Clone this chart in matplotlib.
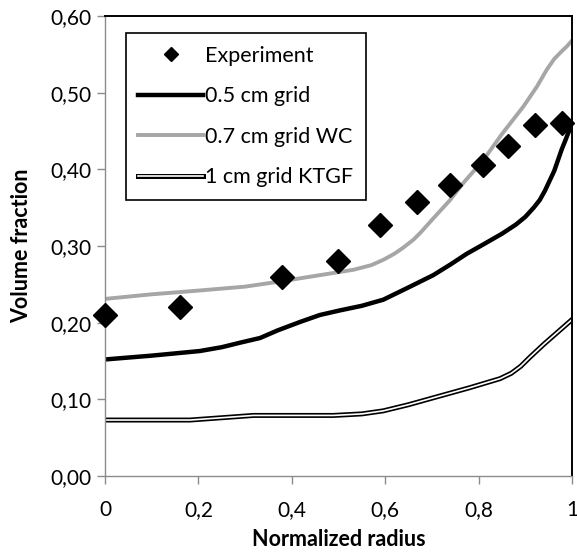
import matplotlib
matplotlib.use('Agg')
import matplotlib.pyplot as plt
import matplotlib.patheffects as pe
import numpy as np

plt.rcParams['font.family'] = ['Lato', 'DejaVu Sans']

# experiment points
exp_x = [0, 0.161, 0.378, 0.499, 0.589, 0.669, 0.739, 0.810, 0.864, 0.921, 0.978]
exp_y = [0.210, 0.221, 0.260, 0.280, 0.327, 0.357, 0.380, 0.406, 0.430, 0.458, 0.460]

# 0.5 cm grid
g05_x = [0, 0.1, 0.203, 0.25, 0.29, 0.332, 0.37, 0.418, 0.46, 0.503, 0.55, 0.596, 0.65, 0.703,
         0.74, 0.775, 0.81, 0.85, 0.88, 0.90, 0.918, 0.931, 0.942, 0.952, 0.962, 0.970, 0.978,
         0.986, 0.993, 1.0]
g05_y = [0.152, 0.157, 0.163, 0.168, 0.174, 0.180, 0.190, 0.201, 0.210, 0.216, 0.222, 0.230,
         0.246, 0.262, 0.276, 0.290, 0.302, 0.316, 0.328, 0.338, 0.350, 0.360, 0.372, 0.385,
         0.398, 0.412, 0.426, 0.438, 0.449, 0.458]

# 0.7 cm grid WC
g07_x = [0, 0.1, 0.203, 0.30, 0.378, 0.45, 0.532, 0.57, 0.596, 0.62, 0.639, 0.66, 0.675, 0.70,
         0.739, 0.767, 0.790, 0.810, 0.85, 0.896, 0.925, 0.946, 0.962, 0.978, 0.99, 1.0]
g07_y = [0.231, 0.237, 0.242, 0.247, 0.254, 0.261, 0.269, 0.275, 0.282, 0.290, 0.298, 0.308,
         0.317, 0.334, 0.360, 0.382, 0.398, 0.412, 0.446, 0.482, 0.508, 0.530, 0.544, 0.554,
         0.561, 0.568]

# 1 cm grid KTGF
g1_x = [0, 0.1, 0.182, 0.25, 0.318, 0.40, 0.489, 0.55, 0.596, 0.65, 0.703, 0.78, 0.846, 0.87,
        0.89, 0.91, 0.94, 0.97, 1.0]
g1_y = [0.073, 0.073, 0.073, 0.076, 0.079, 0.079, 0.079, 0.081, 0.085, 0.093, 0.102, 0.115,
        0.127, 0.134, 0.143, 0.155, 0.172, 0.188, 0.204]

xticks = [0, 0.2, 0.4, 0.6, 0.8, 1.0]
xtick_labels = ['0', '0,2', '0,4', '0,6', '0,8', '1']
yticks = [0, 0.1, 0.2, 0.3, 0.4, 0.5, 0.6]
ytick_labels = ['0,00', '0,10', '0,20', '0,30', '0,40', '0,50', '0,60']

fig = plt.figure(figsize=(5.77, 5.54), dpi=100)
ax = fig.add_axes([0.182, 0.1408, 0.8093, 0.8303])

ax.plot(exp_x, exp_y, linestyle='none', marker='D', markersize=12,
        color='black', label='Experiment', clip_on=False, zorder=5)
ax.plot(g05_x, g05_y, color='black', lw=3.2, label='0.5 cm grid', solid_joinstyle='round')
ax.plot(g07_x, g07_y, color='#a6a6a6', lw=2.8, label='0.7 cm grid WC', solid_joinstyle='round')
ax.plot(g1_x, g1_y, color='white', lw=1.2, label='1 cm grid KTGF',
        path_effects=[pe.Stroke(linewidth=3.6, foreground='black'), pe.Normal()])

ax.set_xlim(0, 1)
ax.set_ylim(0, 0.6)
ax.set_xticks(xticks)
ax.set_xticklabels(xtick_labels)
ax.set_yticks(yticks)
ax.set_yticklabels(ytick_labels)

for s in ['left', 'bottom']:
    ax.spines[s].set_color('#8c8c8c')
    ax.spines[s].set_linewidth(1.0)
for s in ['top', 'right']:
    ax.spines[s].set_color('black')
    ax.spines[s].set_linewidth(1.4)

ax.tick_params(axis='both', colors='#8c8c8c', labelcolor='black', labelsize=15,
               length=6, width=1.0, direction='out')
ax.tick_params(axis='x', pad=11)
ax.tick_params(axis='y', pad=4)

ax.set_xlabel('Normalized radius', fontsize=15.5, fontweight='bold', labelpad=7)
ax.set_ylabel('Volume fraction', fontsize=15.5, fontweight='bold', labelpad=13)

leg = ax.legend(loc='upper left', bbox_to_anchor=(0.044, 0.963), fontsize=15.5,
                frameon=True, fancybox=False, edgecolor='black', framealpha=1,
                handlelength=3.0, handletextpad=0.1, labelspacing=0.95,
                borderpad=0.6, borderaxespad=0, markerscale=0.6)
leg.get_frame().set_linewidth(1.2)

fig.savefig('out.png', dpi=100)
